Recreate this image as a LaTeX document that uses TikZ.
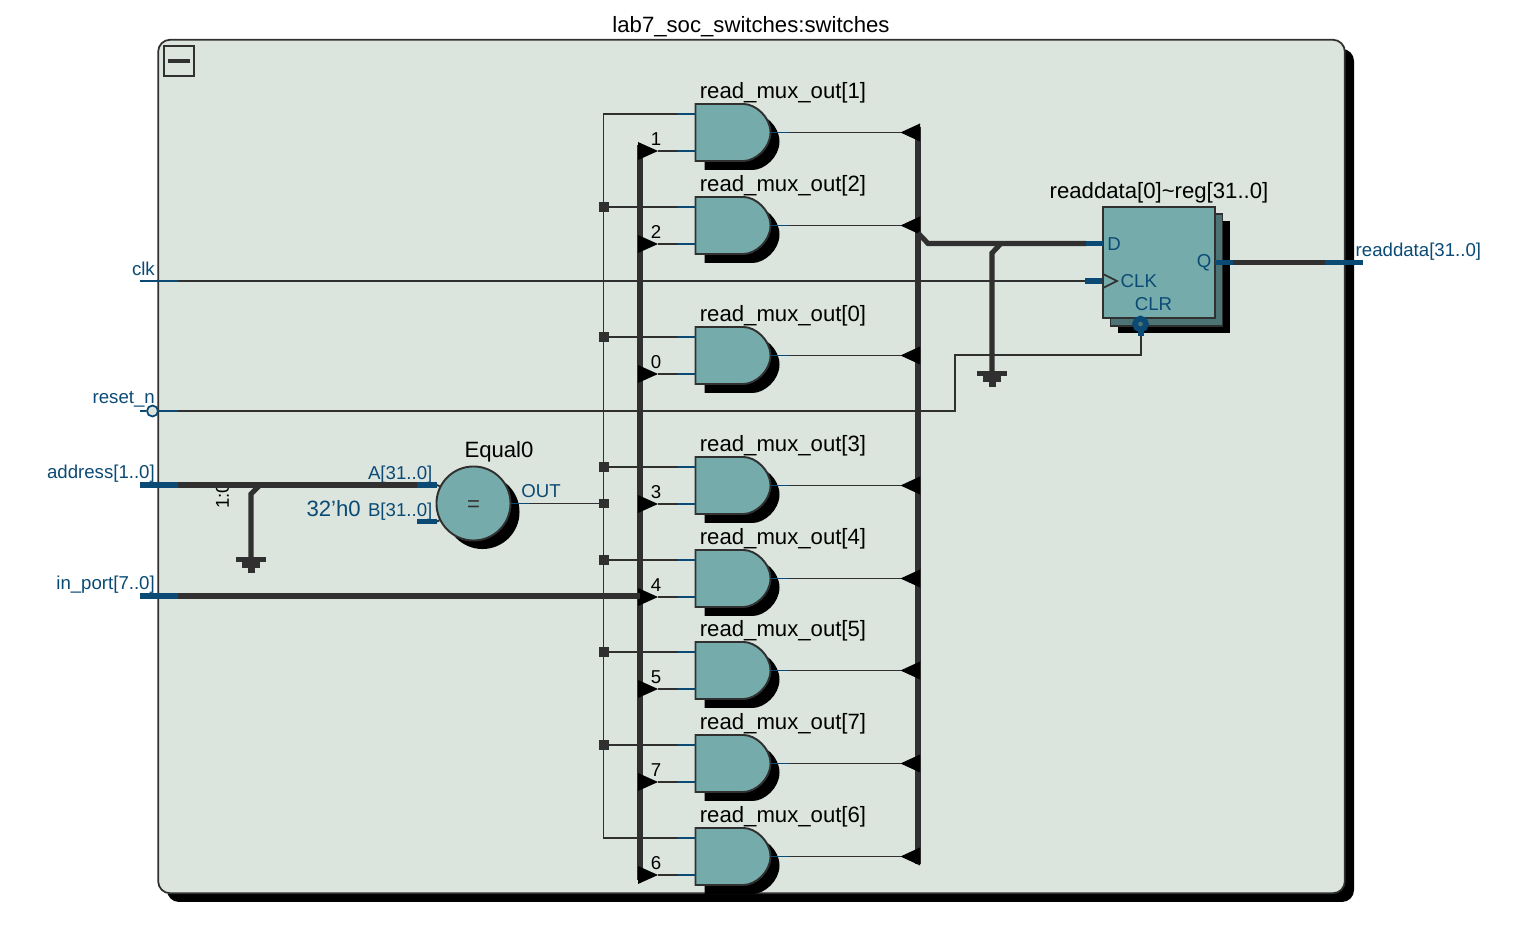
\documentclass[tikz,border=0pt]{standalone}
\usepackage{fontspec}
\setmainfont{Liberation Sans}
\usetikzlibrary{calc}
\definecolor{panelbg}{HTML}{DCE5DD}
\definecolor{cellbg}{HTML}{76ABAB}
\definecolor{cellmid}{HTML}{4D7474}
\definecolor{wirecol}{HTML}{303030}
\definecolor{pincol}{HTML}{0B4A75}
\tikzset{
  wire/.style={draw=wirecol, line width=0.55pt},
  bus/.style={draw=wirecol, line width=1.45pt},
  pinthin/.style={draw=pincol, line width=0.55pt},
  pinbus/.style={draw=pincol, line width=1.45pt},
  blocklabel/.style={text=black, font=\fontsize{6.3}{7.5}\selectfont, inner sep=0pt},
  pinlabel/.style={text=pincol, font=\fontsize{5.3}{6.4}\selectfont, inner sep=0pt},
  sellabel/.style={text=black, font=\fontsize{5.3}{6.4}\selectfont, inner sep=0pt},
  tapdot/.style={fill=wirecol, minimum size=0.095cm, inner sep=0pt},
}
\newcommand{\gatepath}{(0,0) -- (48,0) .. controls (60,0) and (75,13) .. (75,28.5) .. controls (75,44) and (60,57) .. (48,57) -- (0,57) -- cycle}
\newcommand{\gndbars}[1]{%
  \fill[wirecol] ($(#1)+(-15,0)$) rectangle ($(#1)+(15,5.5)$);
  \fill[wirecol] ($(#1)+(-9,5.5)$) rectangle ($(#1)+(9,11)$);
  \fill[wirecol] ($(#1)+(-3.5,11)$) rectangle ($(#1)+(3.5,16)$);
}

\begin{document}
\begin{tikzpicture}[x=0.01cm,y=-0.01cm]
  \useasboundingbox (0,0) rectangle (1520,934);
  % Panel with its shadow:
  \fill[black, rounded corners=3.4pt] (167,49) rectangle (1354,902);
  \node[draw=wirecol, fill=panelbg, line width=0.5pt, rounded corners=3.4pt, minimum width=11.86cm, minimum height=8.53cm, inner sep=0pt] (panel) at (751.5,466.5) {};
  \node[blocklabel] (paneltitle) at (751,27) {lab7\_soc\_switches:switches};
  \node[draw=wirecol, line width=0.45pt, minimum size=0.3cm, inner sep=0pt] (collapse) at (179,61) {};
  \draw[wirecol, line width=1.4pt] ($(collapse)+(-11,0)$) -- ($(collapse)+(11,0)$);

  % The two vertical buses:
  \coordinate (selbustop) at (640,145);
  \coordinate (selbusbot) at (640,880);
  \coordinate (outbustop) at (918,127);
  \coordinate (outbusbot) at (918,864);
  \coordinate (enabletop) at (603.5,114);
  \draw[bus] (selbustop) -- (selbusbot);
  \draw[bus] (outbustop) -- (outbusbot);

  % Gates: name / top / select number
  \foreach \n/\t in {1/104,2/197,0/327,3/457,4/550,5/642,7/735,6/828}{%
    \begin{scope}[shift={(695.5,\t)}]
      \fill[black, shift={(9,9)}] \gatepath;
      \draw[draw=wirecol, fill=cellbg, line width=0.55pt] \gatepath;
      \coordinate (g\n a) at (0,10);
      \coordinate (g\n as) at (-18,10);
      \coordinate (g\n b) at (0,47);
      \coordinate (g\n bs) at (-18,47);
      \coordinate (g\n o) at (75,28.5);
      \coordinate (g\n os) at (93,28.5);
      \coordinate (tap\n) at (-91.5,10);
      % select triangle on the left bus, output triangle on the right bus
      \coordinate (sel\n) at (-37.5,47);
      \coordinate (ret\n) at (205,28.5);
      \fill[black] (-57.5,38) -- (-37.5,47) -- (-57.5,56) -- cycle;
      \fill[black] (224.5,19.5) -- (205,28.5) -- (224.5,37.5) -- cycle;
      \node[blocklabel] (name\n) at (87.5,-10.8) {read\_mux\_out[\n]};
      \node[sellabel] (num\n) at (-39.5,35.5) {\n};
    \end{scope}
    \draw[wire] (sel\n) -- (g\n bs);
    \draw[pinthin] (g\n bs) -- (g\n b);
    \draw[pinthin] (g\n as) -- (g\n a);
    \draw[pinthin] (g\n o) -- (g\n os);
    \draw[wire] (g\n os) -- (ret\n);
  }

  % Enable line, with the tap of each gate:
  \draw[wire] (g1as) -| (enabletop) |- (g6as);
  \foreach \n in {2,0,3,4,5,7}{%
    \node[tapdot] (dot\n) at (tap\n) {};
    \draw[wire] (dot\n) -- (g\n as);
  }

  % Comparator:
  \node[circle, fill=black, minimum size=0.74cm, inner sep=0pt] (eqshadow) at (482.5,512) {};
  \node[circle, draw=wirecol, fill=cellbg, line width=0.55pt, minimum size=0.74cm, inner sep=0pt] (eq) at (473.5,503.5) {};
  \node[text=wirecol, font=\fontsize{6.3}{7.5}\selectfont, inner sep=0pt] (eqsign) at (473.5,505.7) {=};
  \node[blocklabel] (eqname) at (499,452) {Equal0};
  \node[pinlabel, anchor=east] (eqa) at (433,474.8) {A[31..0]};
  \node[pinlabel, anchor=east] (eqb) at (433,512) {B[31..0]};
  \node[text=pincol, font=\fontsize{6.3}{7.5}\selectfont, inner sep=0pt, anchor=east] (eqconst) at (361.5,508.5) {32'h0};
  \node[pinlabel] (eqout) at (541,491.5) {OUT};
  \coordinate (eqoutend) at (529,503.5);
  \node[tapdot] (doteq) at (604,503.5) {};
  \draw[pinthin] (eq.east) -- (eqoutend);
  \draw[wire] (eqoutend) -- (doteq);
  \coordinate (apin) at (417,485);
  \coordinate (apinend) at (437,485);
  \coordinate (bpin) at (417,521.5);
  \coordinate (bpinend) at (437,521.5);
  \draw[wire] (apinend) -- (eq);
  \draw[wire] (bpinend) -- (eq);
  \draw[pinbus] (apin) -- (apinend);
  \draw[pinbus] (bpin) -- (bpinend);

  % Input ports:
  \coordinate (clkin) at (140,281);
  \coordinate (clkst) at (178,281);
  \coordinate (clkpin) at (1085,281);
  \coordinate (ffclk) at (1103,281);
  \draw[pinthin] (clkin) -- (clkst);
  \draw[wire] (clkst) -- (clkpin);
  \draw[pinbus] (clkpin) -- (ffclk);
  \node[pinlabel, anchor=east] (clklabel) at (155.5,268.5) {clk};

  \node[circle, draw=pincol, fill=panelbg, line width=0.5pt, minimum size=0.11cm, inner sep=0pt] (rstbubble) at (152.5,411) {};
  \coordinate (rstin) at (140,411);
  \coordinate (rstst) at (178,411);
  \coordinate (rstturn) at (955,355);
  \coordinate (clrpin) at (1141,336);
  \draw[pinthin] (rstin) -- (rstbubble);
  \draw[pinthin] (rstbubble) -- (rstst);
  \draw[wire] (rstst) -| (rstturn) -| (clrpin);
  \node[pinlabel, anchor=east] (rstlabel) at (155.5,399.7) {reset\_n};

  \coordinate (addrin) at (140,485);
  \coordinate (addrst) at (178,485);
  \coordinate (addrtap) at (260,485);
  \coordinate (addrkink) at (251,494);
  \coordinate (addrgnd) at (251,557);
  \node[sellabel, rotate=90] (addrslice) at (222.5,496) {1:0};
  \draw[pinbus] (addrin) -- (addrst);
  \draw[bus] (addrst) -- (apin);
  \draw[bus] (addrtap) -- (addrkink) -- (addrgnd);
  \gndbars{addrgnd}
  \node[pinlabel, anchor=east] (addrlabel) at (155.5,473.7) {address[1..0]};

  \coordinate (portin) at (140,596);
  \coordinate (portst) at (178,596);
  \draw[pinbus] (portin) -- (portst);
  \draw[bus] (portst) -- (640,596);
  \node[pinlabel, anchor=east] (portlabel) at (155.5,584.7) {in\_port[7..0]};

  % Register, three layers:
  \node[fill=black, minimum width=1.12cm, minimum height=1.115cm, inner sep=0pt] (ffback) at (1174,277) {};
  \node[draw=wirecol, fill=cellmid, line width=0.45pt, minimum width=1.12cm, minimum height=1.115cm, inner sep=0pt] (ffmid) at (1166.5,270) {};
  \node[draw=wirecol, fill=cellbg, line width=0.55pt, minimum width=1.12cm, minimum height=1.115cm, inner sep=0pt] (ff) at (1159,262.5) {};
  \node[blocklabel] (ffname) at (1159,193) {readdata[0]\textasciitilde reg[31..0]};
  \node[pinlabel] (ffd) at (1114,244) {D};
  \node[pinlabel, anchor=west] (ffclklabel) at (1120,281.5) {CLK};
  \node[pinlabel] (ffclr) at (1153.5,304.5) {CLR};
  \node[pinlabel, anchor=east] (ffq) at (1212,263) {Q};
  \draw[wirecol, line width=0.5pt] (1103,274) -- (1117,281) -- (1103,288);
  \draw[pinbus] (1141,324) -- (clrpin);
  \node[circle, draw=pincol, fill=cellmid, line width=1.6pt, minimum size=0.11cm, inner sep=0pt] (clrbubble) at (1140.5,324) {};

  % Data into the register, from the right bus:
  \coordinate (outkink) at (928,243.5);
  \coordinate (dpin) at (1086,243.5);
  \coordinate (dend) at (1103,243.5);
  \coordinate (dtap) at (1001,243.5);
  \coordinate (dkink) at (992,253);
  \coordinate (dgnd) at (992,371);
  \draw[bus] (918,233) -- (outkink) -- (dpin);
  \draw[pinbus] (dpin) -- (dend);
  \draw[bus] (dtap) -- (dkink) -- (dgnd);
  \gndbars{dgnd}

  % Output port:
  \coordinate (qpin) at (1215,262.5);
  \coordinate (qst) at (1233,262.5);
  \coordinate (qout) at (1325,262.5);
  \coordinate (qend) at (1363,262.5);
  \draw[pinbus] (qpin) -- (qst);
  \draw[bus] (qst) -- (qout);
  \draw[pinbus] (qout) -- (qend);
  \node[pinlabel, anchor=west] (qlabel) at (1355,251.5) {readdata[31..0]};
\end{tikzpicture}
\end{document}
